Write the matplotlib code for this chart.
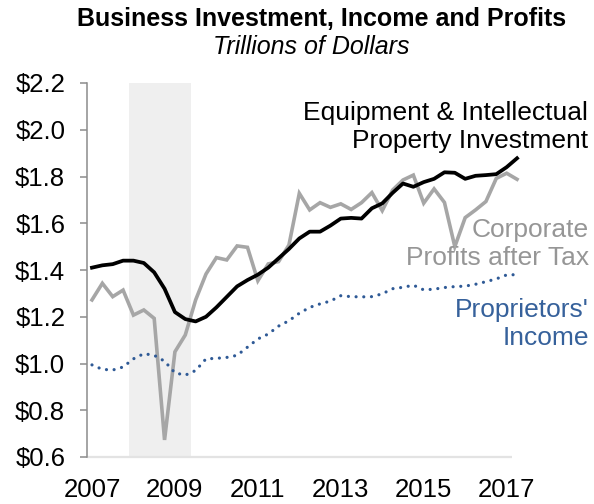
import matplotlib
matplotlib.use("Agg")
import matplotlib.pyplot as plt

plt.rcParams['font.family'] = ['Liberation Sans', 'DejaVu Sans']

quarters = [f"{y}Q{q}" for y in range(2007, 2018) for q in range(1, 5)][:42]

equipment_ip = [1.41, 1.42, 1.425, 1.44, 1.44, 1.43, 1.39, 1.32, 1.22, 1.19,
                1.18, 1.20, 1.24, 1.285, 1.33, 1.357, 1.38, 1.41, 1.45, 1.49,
                1.535, 1.564, 1.564, 1.59, 1.62, 1.623, 1.62, 1.664, 1.685, 1.73,
                1.77, 1.756, 1.776, 1.79, 1.818, 1.816, 1.79, 1.803, 1.806, 1.81,
                1.84, 1.878]

corp_profits = [1.272, 1.343, 1.286, 1.314, 1.207, 1.229, 1.193, 0.673, 1.05, 1.122,
                1.272, 1.383, 1.453, 1.443, 1.503, 1.497, 1.354, 1.426, 1.436, 1.507,
                1.728, 1.657, 1.688, 1.668, 1.683, 1.659, 1.688, 1.731, 1.654, 1.742,
                1.785, 1.806, 1.686, 1.747, 1.689, 1.50, 1.624, 1.657, 1.693, 1.792,
                1.814, 1.788]

proprietors = [0.994, 0.975, 0.972, 0.985, 1.02, 1.042, 1.035, 1.01, 0.96, 0.95,
               0.97, 1.02, 1.022, 1.026, 1.035, 1.07, 1.105, 1.126, 1.16, 1.183,
               1.215, 1.24, 1.255, 1.267, 1.29, 1.286, 1.285, 1.286, 1.298, 1.32,
               1.326, 1.335, 1.315, 1.318, 1.325, 1.329, 1.331, 1.339, 1.35, 1.362,
               1.379, 1.38]

year_labels = ["2007", "2009", "2011", "2013", "2015", "2017"]
year_positions = [0, 8, 16, 24, 32, 40]
y_ticks = [0.6, 0.8, 1.0, 1.2, 1.4, 1.6, 1.8, 2.0, 2.2]
recession = (3.6, 9.55)

W, H = 594, 504
fig = plt.figure(figsize=(W / 100, H / 100), dpi=100)
ax = fig.add_axes([86.8 / W, 47 / H, 435.4 / W, 374 / H])

x = list(range(len(quarters)))

ax.axvspan(recession[0], recession[1], color='#EFEFEF', lw=0, zorder=0)
ax.plot([-0.5, 40.5], [0.6, 0.6], color='#E3E3E3', lw=1.6, clip_on=False, zorder=1,
        solid_capstyle='butt')

ax.plot(x, corp_profits, color='#A6A6A6', lw=2.6, zorder=3, solid_joinstyle='miter')
ax.plot(x, equipment_ip, color='#000000', lw=2.7, zorder=4, solid_joinstyle='round')
ax.plot(x, proprietors, color='#2F5A96', lw=2.3, linestyle=(0, (0.01, 2.4)),
        dash_capstyle='round', zorder=3, clip_on=False)

ax.set_xlim(-0.5, 41.5)
ax.set_ylim(0.6, 2.2)

for s in ['top', 'right', 'bottom']:
    ax.spines[s].set_visible(False)
ax.spines['left'].set_color('#8C8C8C')
ax.spines['left'].set_linewidth(1.1)

ax.set_yticks(y_ticks)
ax.set_yticklabels([f"${v:.1f}" for v in y_ticks], fontsize=18.5)
ax.tick_params(axis='y', direction='out', length=5, width=1.1, color='#8C8C8C', pad=10.5)
ax.set_xticks(year_positions)
ax.set_xticklabels(year_labels, fontsize=18.5)
ax.tick_params(axis='x', length=0, pad=15)

fig.text(322 / W, 1 - 19 / H, "Business Investment, Income and Profits",
         ha='center', va='center', fontsize=18, fontweight='bold')
fig.text(311 / W, 1 - 47 / H, "Trillions of Dollars",
         ha='center', va='center', fontsize=18, style='italic')

fig.text(588 / W, 1 - 127 / H, "Equipment & Intellectual\nProperty Investment",
         ha='right', va='center', fontsize=19, color='#000000', multialignment='right',
         linespacing=1.25)
fig.text(589 / W, 1 - 244 / H, "Corporate\nProfits after Tax",
         ha='right', va='center', fontsize=19, color='#969696', multialignment='right',
         linespacing=1.25)
fig.text(589 / W, 1 - 324 / H, "Proprietors'\nIncome",
         ha='right', va='center', fontsize=19, color='#36619B', multialignment='right',
         linespacing=1.25)

fig.savefig("out.png", dpi=100)
